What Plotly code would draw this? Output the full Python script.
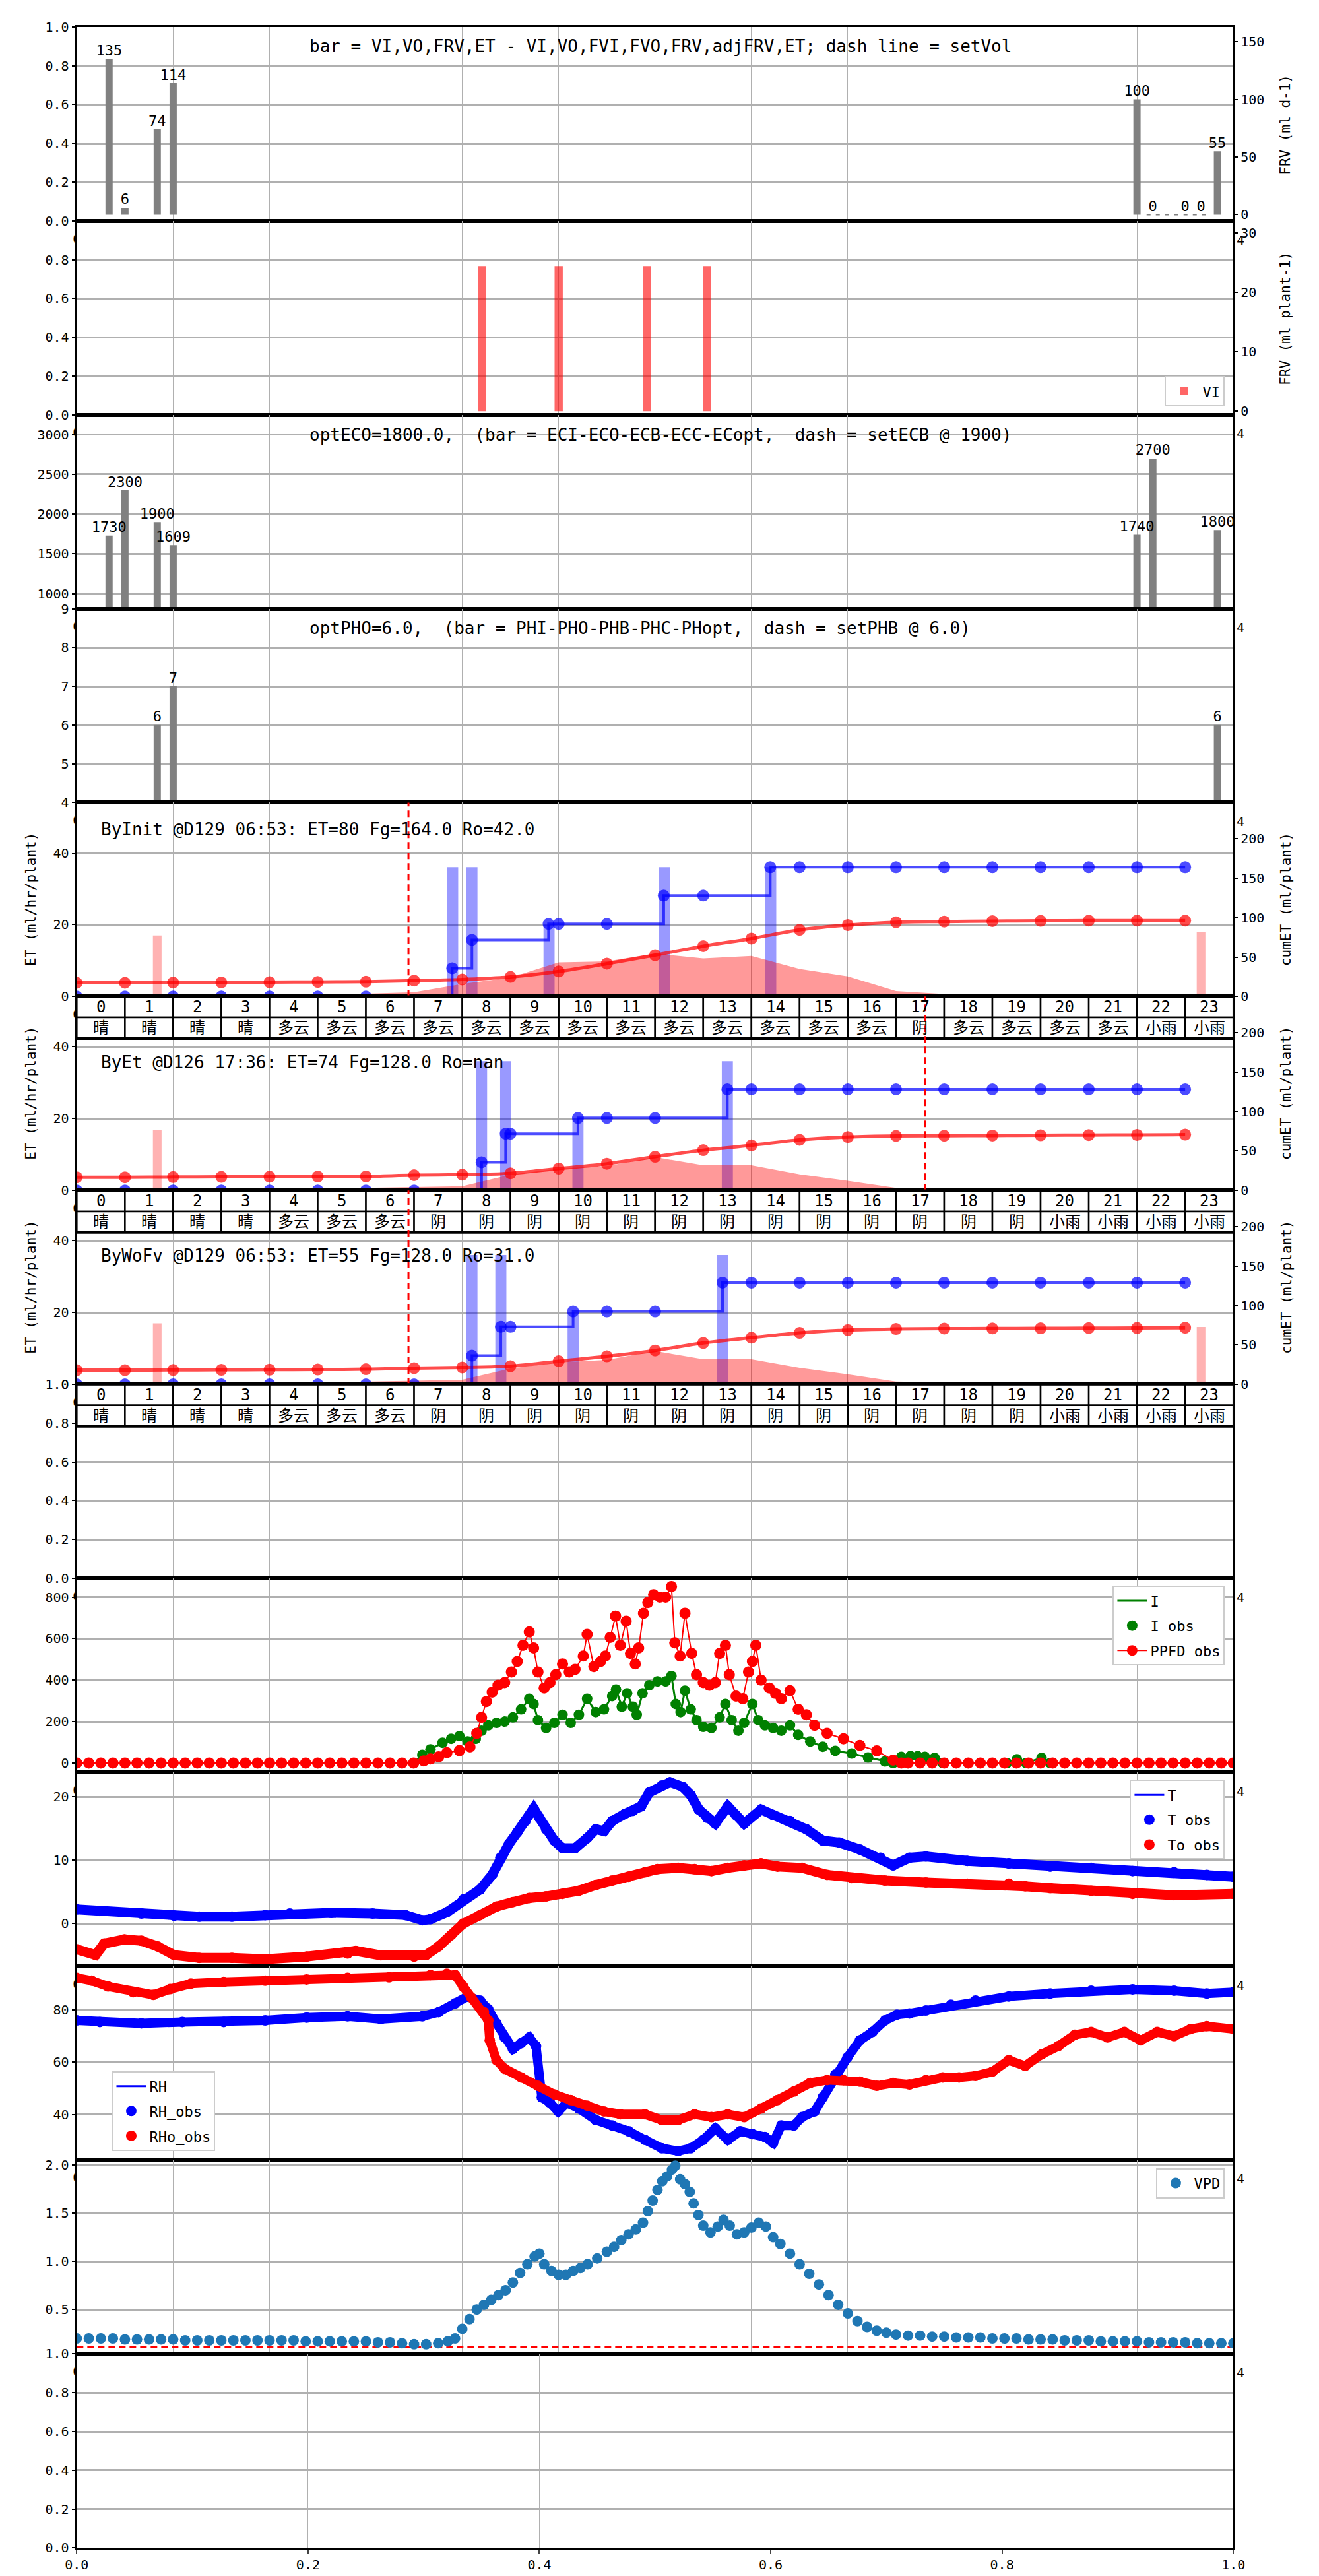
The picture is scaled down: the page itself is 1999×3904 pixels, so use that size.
import plotly.graph_objects as go

# ---------------- data ----------------
hours = list(range(24))

frv_t = [0.67, 1.0, 1.67, 2.0, 22.0, 22.33, 23.0, 23.33, 23.67]
frv_v = [135, 6, 74, 114, 100, 0, 0, 0, 55]
setvol_t = [22.2, 23.45]
setvol_v = [0, 0]

vi_t = [8.41, 10.0, 11.83, 13.08]
vi_v = [24.4, 24.4, 24.4, 24.4]

ec_t = [0.67, 1.0, 1.67, 2.0, 22.0, 22.33, 23.67]
ec_v = [1730, 2300, 1900, 1609, 1740, 2700, 1800]

ph_t = [1.67, 2.0, 23.67]
ph_v = [6, 7, 6]

weather1 = ['晴', '晴', '晴', '晴', '多云', '多云', '多云', '多云', '多云', '多云', '多云', '多云',
            '多云', '多云', '多云', '多云', '多云', '阴', '多云', '多云', '多云', '多云', '小雨', '小雨']
weather2 = ['晴', '晴', '晴', '晴', '多云', '多云', '多云', '阴', '阴', '阴', '阴', '阴',
            '阴', '阴', '阴', '阴', '阴', '阴', '阴', '阴', '小雨', '小雨', '小雨', '小雨']
weather3 = ['晴', '晴', '晴', '晴', '多云', '多云', '多云', '阴', '阴', '阴', '阴', '阴',
            '阴', '阴', '阴', '阴', '阴', '阴', '阴', '阴', '小雨', '小雨', '小雨', '小雨']

# ET panel 1 (ByInit)
et1_area = [0.5, 0.5, 0.5, 0.5, 0.55, 0.6, 0.8, 1.2, 3.5, 5.3, 9.5, 9.8,
            12.0, 10.6, 11.3, 7.7, 5.6, 1.5, 0.7, 0.55, 0.45, 0.4, 0.35, 0.3]
et1_cum = [17.4, 17.4, 17.7, 17.9, 18.2, 18.5, 18.8, 20.2, 21.6, 24.9, 31.8, 41.7,
           52.5, 63.9, 73.5, 84.6, 90.7, 94.3, 95.1, 95.7, 96.0, 96.3, 96.3, 96.3]
et1_step_t = [0, 1, 2, 3, 4, 5, 6, 7.79, 8.2, 9.79, 10, 11, 12.18, 13, 14.39,
              15, 16, 17, 18, 19, 20, 21, 22, 23]
et1_step_v = [0, 0, 0, 0, 0, 0, 0, 35.9, 71.9, 92.1, 92.1, 92.1, 128, 128, 164,
              164, 164, 164, 164, 164, 164, 164, 164, 164]
et1_irr_t = [7.8, 8.2, 9.8, 12.2, 14.4]
et1_irr_v = [36, 36, 20, 36, 36]
et1_drain_t = [1.67, 23.33]
et1_drain_v = [17.0, 17.9]
et1_cut = 6.883

# ET panel 2 (ByEt)
et2_area = [0.3, 0.3, 0.3, 0.3, 0.4, 0.5, 0.7, 1.0, 1.2, 4.4, 6.1, 6.8,
            9.3, 7.0, 7.0, 4.5, 2.7, 0.7, 0.5, 0.4, 0.3, 0.3, 0.25, 0.2]
et2_cum = [16.7, 16.7, 17.0, 17.2, 17.5, 17.7, 17.8, 19.4, 20.0, 21.7, 27.8, 33.9,
           42.8, 51.1, 57.2, 64.2, 67.8, 69.2, 69.4, 69.7, 70.0, 70.3, 70.5, 70.8]
et2_step_t = [0, 1, 2, 3, 4, 5, 6, 7, 8.4, 8.9, 9, 10.4, 11, 12, 13.5,
              14, 15, 16, 17, 18, 19, 20, 21, 22, 23]
et2_step_v = [0, 0, 0, 0, 0, 0, 0, 0, 35.8, 72, 72, 92, 92, 92, 128.3,
              128.3, 128.3, 128.3, 128.3, 128.3, 128.3, 128.3, 128.3, 128.3, 128.3]
et2_irr_t = [8.4, 8.9, 10.4, 13.5]
et2_irr_v = [36, 36, 20, 36]
et2_drain_t = [1.67]
et2_drain_v = [16.9]
et2_cut = 17.6

# ET panel 3 (ByWoFv)
et3_area = [0.3, 0.3, 0.3, 0.3, 0.4, 0.5, 0.7, 1.0, 1.3, 4.4, 6.1, 6.8,
            9.3, 7.0, 7.0, 4.6, 2.8, 0.8, 0.5, 0.4, 0.3, 0.3, 0.25, 0.2]
et3_cum = [18.0, 18.0, 18.2, 18.4, 18.6, 18.8, 19.2, 20.6, 21.4, 23.0, 29.4, 35.6,
           43.0, 52.5, 59.2, 65.3, 68.9, 70.3, 70.8, 70.9, 71.1, 71.4, 71.6, 71.9]
et3_step_t = [0, 1, 2, 3, 4, 5, 6, 7, 8.2, 8.8, 9, 10.3, 11, 12, 13.4,
              14, 15, 16, 17, 18, 19, 20, 21, 22, 23]
et3_step_v = [0, 0, 0, 0, 0, 0, 0, 0, 36.4, 73, 73, 92.5, 92.5, 92.5, 129,
              129, 129, 129, 129, 129, 129, 129, 129, 129, 129]
et3_irr_t = [8.2, 8.8, 10.3, 13.4]
et3_irr_v = [36, 36, 20, 36]
et3_drain_t = [1.67, 23.33]
et3_drain_v = [17.0, 16.0]
et3_cut = 6.883

# light
ppfd_t = [0, 0.25, 0.5, 0.75, 1, 1.25, 1.5, 1.75, 2, 2.25, 2.5, 2.75, 3, 3.25, 3.5, 3.75,
          4, 4.25, 4.5, 4.75, 5, 5.25, 5.5, 5.75, 6, 6.25, 6.5, 6.75,
          6.99, 7.20, 7.34, 7.51, 7.68, 7.94, 8.16, 8.30, 8.40, 8.50, 8.62, 8.74, 8.88,
          9.02, 9.14, 9.26, 9.39, 9.48, 9.57, 9.70, 9.82, 9.94, 10.08, 10.22, 10.34,
          10.51, 10.59, 10.73, 10.87, 10.97, 11.07, 11.18, 11.28, 11.40, 11.49, 11.59,
          11.66, 11.76, 11.85, 11.97, 12.10, 12.22, 12.34, 12.41, 12.52, 12.62, 12.76,
          12.86, 13.00, 13.13, 13.25, 13.34, 13.46, 13.54, 13.68, 13.82, 13.94, 14.02,
          14.09, 14.20, 14.37, 14.50, 14.62, 14.80, 14.97, 15.14, 15.31, 15.57, 15.91,
          16.25, 16.60, 16.94, 17.11,
          17.25, 17.5, 17.75, 18, 18.25, 18.5, 18.75, 19, 19.25, 19.5, 19.75, 20,
          20.25, 20.5, 20.75, 21, 21.25, 21.5, 21.75, 22, 22.25, 22.5, 22.75, 23,
          23.25, 23.5, 23.75, 24]
ppfd_v = [0, 0, 0, 0, 0, 0, 0, 0, 0, 0, 0, 0, 0, 0, 0, 0,
          0, 0, 0, 0, 0, 0, 0, 0, 0, 0, 0, 0,
          0, 10, 20, 30, 50, 60, 78, 143, 220, 297, 342, 375, 388,
          439, 490, 568, 632, 555, 439, 362, 388, 426, 478, 439, 452,
          516, 620, 465, 490, 516, 606, 709, 568, 684, 529, 478,
          555, 722, 774, 812, 800, 800, 851, 580, 516, 722, 529,
          426, 388, 375, 388, 529, 568, 426, 323, 310, 439, 490,
          568, 400, 362, 336, 310, 349, 259, 233, 182, 143, 117,
          85, 59, 14, 0,
          0, 0, 0, 0, 0, 0, 0, 0, 0, 0, 0, 0,
          0, 0, 0, 0, 0, 0, 0, 0, 0, 0, 0, 0,
          0, 0, 0, 0]
iobs_t = [0, 6.99, 7.17, 7.34, 7.59, 7.77, 7.94, 8.11, 8.28, 8.40, 8.54, 8.71, 8.88,
          9.05, 9.22, 9.39, 9.48, 9.57, 9.74, 9.91, 10.08, 10.25, 10.42, 10.59, 10.77,
          10.94, 11.11, 11.19, 11.31, 11.42, 11.54, 11.62, 11.74, 11.88, 12.05, 12.22,
          12.34, 12.43, 12.53, 12.62, 12.74, 12.86, 13.0, 13.17, 13.34, 13.46, 13.59,
          13.73, 13.85, 14.02, 14.14, 14.28, 14.45, 14.62, 14.80, 14.97, 15.22, 15.48,
          15.74, 16.08, 16.42, 16.77, 16.94, 17.11, 17.3, 17.45, 17.6, 17.80, 17.97,
          19.3, 19.51, 19.7, 20.02, 20.2, 24]
iobs_v = [0, 0, 40, 66, 98, 117, 130, 104, 117, 156, 182, 194, 200,
          220, 259, 310, 285, 207, 169, 194, 233, 194, 233, 310, 246,
          259, 323, 355, 272, 336, 272, 233, 336, 375, 394, 394,
          420, 285, 246, 349, 259, 207, 175, 169, 220, 285, 207,
          156, 194, 285, 207, 182, 169, 156, 182, 136, 104, 79,
          59, 46, 27, 8, 0, 30, 34, 33, 30, 25, 0,
          0, 18, 0, 25, 0, 0]

# temperature
t_t = [0.0, 0.48, 1.34, 2.02, 2.54, 3.22, 3.91, 4.42, 5.28, 6.14, 6.82, 7.17, 7.34, 7.68,
       8.02, 8.37, 8.62, 8.79, 8.97, 9.14, 9.31, 9.48, 9.60, 9.74, 9.91, 10.08, 10.34,
       10.59, 10.77, 10.94, 11.11, 11.37, 11.54, 11.71, 11.88, 12.14, 12.31, 12.57,
       12.74, 12.91, 13.08, 13.25, 13.51, 13.68, 13.85, 14.20, 14.45, 14.80, 15.14,
       15.48, 15.82, 16.25, 16.68, 16.94, 17.28, 17.62, 18.48, 19.34, 20.20, 21.05,
       21.91, 22.77, 23.45, 24.0]
t_v = [2.25, 2.0, 1.6, 1.26, 1.1, 1.1, 1.35, 1.6, 1.7, 1.6, 1.35, 0.54, 0.7, 1.8,
       3.8, 5.4, 7.7, 10.4, 12.6, 14.4, 16.2, 18.2, 16.7, 14.9, 13.1, 11.9, 11.9,
       13.5, 14.9, 14.6, 16.2, 17.3, 17.8, 18.5, 20.7, 21.8, 22.3, 21.6,
       20.3, 18.0, 16.7, 15.8, 18.5, 17.1, 15.8, 18.0, 17.1, 16.2, 14.9,
       13.1, 12.8, 11.7, 10.4, 9.2, 10.4, 10.6, 9.9, 9.5, 9.0, 8.8,
       8.3, 8.1, 7.7, 7.4]
to_t = [0, 0.39, 0.57, 0.99, 1.34, 1.68, 2.02, 2.54, 3.22, 3.91, 4.77, 5.62, 5.79, 6.31,
        7.0, 7.25, 7.51, 7.77, 8.02, 8.37, 8.71, 9.05, 9.39, 9.74, 10.08, 10.42, 10.77,
        11.11, 11.45, 11.79, 12.05, 12.48, 12.82, 13.17, 13.51, 13.85, 14.20, 14.54,
        15.05, 15.57, 16.08, 16.77, 17.62, 18.48, 19.34, 19.68, 20.20, 21.05, 21.91,
        22.77, 24.0]
to_v = [-4.05, -4.95, -3.15, -2.5, -2.7, -3.6, -4.95, -5.4, -5.4, -5.6, -5.2, -4.7, -4.3, -5.0,
        -5.2, -4.95, -3.6, -1.8, 0.0, 1.35, 2.7, 3.4, 4.05, 4.3, 4.7, 5.2, 6.1,
        6.8, 7.4, 8.1, 8.6, 8.8, 8.6, 8.3, 8.8, 9.2, 9.5, 9.0,
        8.8, 7.7, 7.2, 6.8, 6.5, 6.3, 6.3, 5.9, 5.6, 5.2, 4.7,
        4.5, 4.7]

# humidity
rh_t = [0, 0.48, 1.34, 2.19, 3.05, 3.91, 4.77, 5.62, 6.31, 7.17, 7.51, 7.85, 8.11, 8.37,
        8.54, 8.71, 8.88, 9.05, 9.22, 9.39, 9.53, 9.65, 9.82, 9.99, 10.17, 10.42, 10.77,
        11.11, 11.45, 11.79, 12.14, 12.48, 12.74, 13.0, 13.25, 13.51, 13.77, 14.02,
        14.28, 14.45, 14.62, 14.88, 15.05, 15.31, 15.48, 15.74, 15.99, 16.25, 16.51,
        16.77, 17.02, 17.28, 17.62, 18.14, 18.65, 19.34, 20.20, 21.05, 21.91, 22.77,
        23.45, 24.0]
rh_v = [76, 75.4, 74.9, 75.4, 75.4, 76, 77.1, 77.6, 76.5, 77.6, 79.2, 82.5, 85.2, 83.6,
        80.3, 74.9, 69.5, 65.1, 67.3, 69.5, 66.2, 46.6, 44.5, 41.2, 44.5, 42.3, 37.9,
        35.8, 33.6, 30.3, 27.1, 26, 27.1, 30.3, 34.7, 30.3, 33.6, 32.5,
        31.4, 29.2, 35.8, 35.8, 39.0, 41.2, 46.6, 55.3, 61.8, 68.4, 71.6,
        76, 78.2, 78.7, 79.8, 82, 83.6, 85.2, 86.3, 87.4, 87.9, 87.4,
        86.3, 86.8]
rho_t = [0, 0.31, 0.65, 1.17, 1.59, 1.94, 2.37, 3.05, 3.91, 4.77, 5.62, 6.48, 7.34, 7.68,
         7.85, 8.02, 8.19, 8.45, 8.54, 8.57, 8.71, 8.88, 9.22, 9.57, 9.91, 10.25, 10.59,
         10.94, 11.28, 11.79, 12.14, 12.48, 12.82, 13.17, 13.51, 13.85, 14.20, 14.54,
         14.88, 15.22, 15.57, 15.91, 16.25, 16.60, 16.94, 17.28, 17.62, 17.97, 18.31,
         18.65, 19.0, 19.34, 19.68, 20.02, 20.37, 20.71, 21.05, 21.39, 21.74, 22.08,
         22.42, 22.77, 23.11, 23.45, 24.0]
rho_v = [92.3, 91.2, 89, 86.8, 85.8, 88, 90.1, 90.7, 91.2, 91.7, 92.3, 92.5, 93.4, 93.9,
         93.4, 89, 84.7, 79.2, 76, 68.4, 60.8, 57.5, 54.2, 51, 47.7, 45.5, 43.4,
         41.2, 40.1, 40.1, 37.9, 37.9, 40.1, 39.0, 40.1, 39.0, 42.3, 45.5,
         48.8, 52.1, 53.2, 53.2, 52.6, 51, 52.1, 51.5, 53.2, 54.2, 54.2,
         54.8, 56.4, 60.8, 58.6, 63, 66.2, 70.5, 71.6, 69.5, 71.6, 68.4,
         71.6, 70, 72.7, 73.8, 72.7]

# vapour pressure deficit
vpd_t = [0, 0.25, 0.5, 0.75, 1, 1.25, 1.5, 1.75, 2, 2.25, 2.5, 2.75, 3, 3.25, 3.5, 3.75,
         4, 4.25, 4.5, 4.75, 5, 5.25, 5.5, 5.75, 6, 6.25, 6.5, 6.75, 7.0,
         7.25, 7.5, 7.7, 7.85, 8.0, 8.15, 8.3, 8.45, 8.6, 8.75, 8.9, 9.05, 9.2, 9.35,
         9.5, 9.6, 9.7, 9.85, 10.0, 10.15, 10.3, 10.45, 10.6, 10.8, 11.0, 11.15, 11.3,
         11.45, 11.6, 11.75, 11.85, 11.95, 12.05, 12.15, 12.25, 12.35, 12.42, 12.52,
         12.62, 12.72, 12.8, 12.9, 13.0, 13.15, 13.3, 13.42, 13.55, 13.7, 13.85, 14.0,
         14.15, 14.3, 14.45, 14.6, 14.8, 15.0, 15.2, 15.4, 15.6, 15.8, 16.0, 16.2, 16.4,
         16.6, 16.8, 17.0,
         17.25, 17.5, 17.75, 18, 18.25, 18.5, 18.75, 19, 19.25, 19.5, 19.75, 20,
         20.25, 20.5, 20.75, 21, 21.25, 21.5, 21.75, 22, 22.25, 22.5, 22.75, 23,
         23.25, 23.5, 23.75, 24]
vpd_v = [0.2, 0.2, 0.2, 0.2, 0.19, 0.19, 0.19, 0.19, 0.19, 0.18, 0.18, 0.18, 0.18, 0.18,
         0.18, 0.18, 0.18, 0.18, 0.18, 0.17, 0.17, 0.17, 0.17, 0.17, 0.17, 0.16, 0.16,
         0.15, 0.14,
         0.14, 0.15, 0.17, 0.2, 0.3, 0.4, 0.5, 0.55, 0.6, 0.65, 0.7, 0.78, 0.88, 0.97,
         1.05, 1.08, 0.97, 0.9, 0.86, 0.86, 0.9, 0.93, 0.97, 1.03, 1.1, 1.15, 1.22,
         1.28, 1.33, 1.4, 1.52, 1.63, 1.74, 1.83, 1.88, 1.95, 1.99, 1.85,
         1.8, 1.72, 1.6, 1.48, 1.37, 1.3, 1.36, 1.43, 1.37, 1.28, 1.3, 1.35,
         1.4, 1.36, 1.25, 1.18, 1.08, 0.97, 0.87, 0.76, 0.65, 0.55, 0.46, 0.38, 0.32,
         0.28, 0.26, 0.24,
         0.23, 0.23, 0.22, 0.22, 0.21, 0.21, 0.21, 0.2, 0.2, 0.2, 0.19, 0.19,
         0.19, 0.18, 0.18, 0.18, 0.17, 0.17, 0.17, 0.17, 0.16, 0.16, 0.16, 0.16,
         0.15, 0.15, 0.15, 0.15]
vpd_ref = 0.11

# ---------------- layout helpers ----------------
FONT = "DejaVu Sans Mono, Noto Sans CJK SC"
GRID = "#b0b0b0"
W, H = 1999, 3904
XL, XR = 92, 1877
TOP, PH = 21, 295.7


def fx(p):
    return p / W


def fy(p):
    return 1 - p / H


def ptop(k):
    return TOP + k * PH


def xr(k):
    return 'x' if k == 0 else f'x{k + 1}'


def yr(k):
    return 'y' if k == 0 else f'y{k + 1}'


def ryr(k):
    return f'y{k + 21}'


def key(ref):
    return ref[0] + 'axis' + ref[1:]


fig = go.Figure()
layout = dict(width=W, height=H, margin=dict(l=0, r=0, t=0, b=0),
              paper_bgcolor='white', plot_bgcolor='rgba(0,0,0,0)', barmode='overlay',
              font=dict(family=FONT, size=20, color='black'), showlegend=True)

left_axes = [
    dict(range=[0, 1], tickvals=[0, 0.2, 0.4, 0.6, 0.8, 1.0], tickformat='.1f'),
    dict(range=[0, 1], tickvals=[0, 0.2, 0.4, 0.6, 0.8], tickformat='.1f'),
    dict(range=[810, 3250], tickvals=[1000, 1500, 2000, 2500, 3000]),
    dict(range=[4, 9], tickvals=[4, 5, 6, 7, 8, 9]),
    dict(range=[0, 54], tickvals=[0, 20, 40]),
    dict(range=[0, 54], tickvals=[0, 20, 40]),
    dict(range=[0, 54], tickvals=[0, 20, 40]),
    dict(range=[0, 1], tickvals=[0, 0.2, 0.4, 0.6, 0.8, 1.0], tickformat='.1f'),
    dict(range=[-44, 891], tickvals=[0, 200, 400, 600, 800]),
    dict(range=[-6.7, 23.9], tickvals=[0, 10, 20]),
    dict(range=[22.6, 96.8], tickvals=[40, 60, 80]),
    dict(range=[0.04, 2.05], tickvals=[0.5, 1.0, 1.5, 2.0], tickformat='.1f'),
    dict(range=[0, 1], tickvals=[0, 0.2, 0.4, 0.6, 0.8, 1.0], tickformat='.1f'),
]
right_axes = {
    0: dict(range=[-5.3, 162.7], tickvals=[0, 50, 100, 150]),
    1: dict(range=[-0.6, 32], tickvals=[0, 10, 20, 30]),
    4: dict(range=[0, 246], tickvals=[0, 50, 100, 150, 200]),
    5: dict(range=[0, 246], tickvals=[0, 50, 100, 150, 200]),
    6: dict(range=[0, 246], tickvals=[0, 50, 100, 150, 200]),
}

for k in range(13):
    dom = [fy(ptop(k) + PH), fy(ptop(k))]
    xa = dict(domain=[fx(XL), fx(XR)], anchor=yr(k), range=[0, 24], showgrid=True,
              gridcolor=GRID, gridwidth=1.2, tickmode='linear', tick0=0, dtick=2,
              showticklabels=False, ticks='', showline=True, linecolor='black',
              linewidth=3, mirror=True, zeroline=False)
    if k == 12:
        xa.update(range=[0, 1], dtick=0.2, showticklabels=True, ticks='outside',
                  ticklen=6, tickwidth=1.5, tickformat='.1f', tickfont=dict(size=20))
    layout[key(xr(k))] = xa
    ya = dict(domain=dom, anchor=xr(k), tickmode='array',
              showgrid=True, gridcolor=GRID, gridwidth=2.5, ticks='outside', ticklen=6,
              tickwidth=1.5, tickcolor='black', showline=True, linecolor='black',
              linewidth=1.5, mirror=True, zeroline=False, tickfont=dict(size=20))
    ya.update(left_axes[k])
    layout[key(yr(k))] = ya
    # an empty trace makes sure every base subplot exists
    fig.add_trace(go.Scatter(x=[], y=[], xaxis=xr(k), yaxis=yr(k), showlegend=False))
    if k in right_axes:
        ra = dict(overlaying=yr(k), side='right', anchor=xr(k), domain=dom,
                  tickmode='array', showgrid=False, ticks='outside', ticklen=6,
                  tickwidth=1.5, tickcolor='black', showline=False, zeroline=False,
                  tickfont=dict(size=20))
        ra.update(right_axes[k])
        layout[key(ryr(k))] = ra

annotations = []
shapes = []


def note(text, x, y, size=26, xanchor='left', angle=0, **kw):
    annotations.append(dict(text=text, x=x, y=y, xref='paper', yref='paper',
                            xanchor=xanchor, yanchor='middle', showarrow=False,
                            textangle=angle, font=dict(size=size, family=FONT), **kw))


GREY = '#808080'

# panel 1: FRV bars
fig.add_trace(go.Bar(x=frv_t, y=frv_v, width=0.15, marker=dict(color=GREY, line_width=0),
                     xaxis=xr(0), yaxis=ryr(0), showlegend=False))
fig.add_trace(go.Scatter(x=frv_t, y=frv_v, mode='text', text=[str(v) for v in frv_v],
                         textposition='top center', textfont=dict(size=22),
                         cliponaxis=False, xaxis=xr(0), yaxis=ryr(0), showlegend=False))
fig.add_trace(go.Scatter(x=setvol_t, y=setvol_v, mode='lines',
                         line=dict(color=GREY, width=2, dash='6px,8px'),
                         xaxis=xr(0), yaxis=ryr(0), showlegend=False))
note('bar = VI,VO,FRV,ET - VI,VO,FVI,FVO,FRV,adjFRV,ET; dash line = setVol',
     fx(449), fy(50))
note('FRV (ml d-1)', fx(1957), fy(170), size=21, xanchor='center', angle=-90)

# panel 2: VI bars
fig.add_trace(go.Bar(x=vi_t, y=vi_v, width=0.17, name='VI',
                     marker=dict(color='rgba(255,0,0,0.6)', line_width=0),
                     xaxis=xr(1), yaxis=ryr(1), legend='legend'))
note('FRV (ml plant-1)', fx(1957), fy(466), size=21, xanchor='center', angle=-90)

# panel 3: EC bars
fig.add_trace(go.Bar(x=ec_t, y=ec_v, width=0.15, marker=dict(color=GREY, line_width=0),
                     xaxis=xr(2), yaxis=yr(2), showlegend=False))
fig.add_trace(go.Scatter(x=ec_t, y=ec_v, mode='text', text=[str(v) for v in ec_v],
                         textposition='top center', textfont=dict(size=22),
                         cliponaxis=False, xaxis=xr(2), yaxis=yr(2), showlegend=False))
note('optECO=1800.0,  (bar = ECI-ECO-ECB-ECC-ECopt,  dash = setECB @ 1900)',
     fx(449), fy(643))

# panel 4: pH bars
fig.add_trace(go.Bar(x=ph_t, y=ph_v, width=0.15, marker=dict(color=GREY, line_width=0),
                     xaxis=xr(3), yaxis=yr(3), showlegend=False))
fig.add_trace(go.Scatter(x=ph_t, y=ph_v, mode='text', text=[str(v) for v in ph_v],
                         textposition='top center', textfont=dict(size=22),
                         cliponaxis=False, xaxis=xr(3), yaxis=yr(3), showlegend=False))
note('optPHO=6.0,  (bar = PHI-PHO-PHB-PHC-PHopt,  dash = setPHB @ 6.0)',
     fx(449), fy(938))

# ET panels
et_panels = [
    dict(k=4, area=et1_area, cum=et1_cum, st=et1_step_t, sv=et1_step_v, it=et1_irr_t,
         iv=et1_irr_v, dt=et1_drain_t, dv=et1_drain_v, cut=et1_cut, weather=weather1,
         title='ByInit @D129 06:53: ET=80 Fg=164.0 Ro=42.0', ty=1245),
    dict(k=5, area=et2_area, cum=et2_cum, st=et2_step_t, sv=et2_step_v, it=et2_irr_t,
         iv=et2_irr_v, dt=et2_drain_t, dv=et2_drain_v, cut=et2_cut, weather=weather2,
         title='ByEt @D126 17:36: ET=74 Fg=128.0 Ro=nan', ty=1600),
    dict(k=6, area=et3_area, cum=et3_cum, st=et3_step_t, sv=et3_step_v, it=et3_irr_t,
         iv=et3_irr_v, dt=et3_drain_t, dv=et3_drain_v, cut=et3_cut, weather=weather3,
         title='ByWoFv @D129 06:53: ET=55 Fg=128.0 Ro=31.0', ty=1895),
]
for p in et_panels:
    k = p['k']
    fig.add_trace(go.Scatter(x=hours, y=p['area'], mode='lines', fill='tozeroy',
                             line=dict(width=0, color='rgba(255,0,0,0)'),
                             fillcolor='rgba(255,0,0,0.4)', xaxis=xr(k), yaxis=yr(k),
                             showlegend=False))
    fig.add_trace(go.Bar(x=p['it'], y=p['iv'], width=0.23,
                         marker=dict(color='rgba(0,0,255,0.4)', line_width=0),
                         xaxis=xr(k), yaxis=yr(k), showlegend=False))
    fig.add_trace(go.Bar(x=p['dt'], y=p['dv'], width=0.18,
                         marker=dict(color='rgba(255,0,0,0.3)', line_width=0),
                         xaxis=xr(k), yaxis=yr(k), showlegend=False))
    fig.add_trace(go.Scatter(x=hours, y=p['cum'], mode='lines+markers',
                             line=dict(color='rgba(255,0,0,0.7)', width=5, shape='spline'),
                             marker=dict(size=18, color='rgba(255,0,0,0.7)'),
                             xaxis=xr(k), yaxis=ryr(k), showlegend=False))
    fig.add_trace(go.Scatter(x=p['st'], y=p['sv'], mode='lines+markers',
                             line=dict(color='rgba(0,0,255,0.7)', width=4, shape='hv'),
                             marker=dict(size=18, color='rgba(0,0,255,0.7)'),
                             xaxis=xr(k), yaxis=ryr(k), showlegend=False))
    shapes.append(dict(type='line', xref=xr(k), yref=yr(k) + ' domain', x0=p['cut'],
                       x1=p['cut'], y0=0, y1=1,
                       line=dict(color='red', width=3, dash='10px,6px')))
    note(p['title'], fx(127), fy(p['ty']))
    mid = ptop(k) + PH / 2
    note('ET (ml/hr/plant)', fx(22), fy(mid), size=21, xanchor='center', angle=-90)
    note('cumET (ml/plant)', fx(1959), fy(mid), size=21, xanchor='center', angle=-90)
    # table under the axes: hour row and weather row
    b = ptop(k) + PH
    for h in hours:
        for row, label in ((0, str(h)), (1, p['weather'][h])):
            shapes.append(dict(type='rect', xref=xr(k), yref='paper', x0=h, x1=h + 1,
                               y0=fy(b + 32 * (row + 1)), y1=fy(b + 32 * row),
                               fillcolor='white', line=dict(color='black', width=2.5),
                               layer='above'))
            annotations.append(dict(text=label, x=h + 0.5, y=fy(b + 32 * row + 16),
                                    xref=xr(k), yref='paper', showarrow=False,
                                    xanchor='center', yanchor='middle',
                                    font=dict(size=24, family=FONT)))
    for yy, wd in ((b, 3.5), (b + 64, 4)):
        shapes.append(dict(type='line', xref=xr(k), yref='paper', x0=0, x1=24,
                           y0=fy(yy), y1=fy(yy), line=dict(color='black', width=wd),
                           layer='above'))

# light panel
k = 8
fig.add_trace(go.Scatter(x=iobs_t, y=iobs_v, mode='lines', name='I', legendgroup='I',
                         line=dict(color='green', width=3), xaxis=xr(k), yaxis=yr(k),
                         legend='legend2'))
fig.add_trace(go.Scatter(x=iobs_t, y=iobs_v, mode='markers', name='I_obs',
                         legendgroup='I_obs', marker=dict(color='green', size=16),
                         xaxis=xr(k), yaxis=yr(k), legend='legend2'))
fig.add_trace(go.Scatter(x=ppfd_t, y=ppfd_v, mode='lines+markers', name='PPFD_obs',
                         legendgroup='PPFD_obs', line=dict(color='red', width=2),
                         marker=dict(color='red', size=17), xaxis=xr(k), yaxis=yr(k),
                         legend='legend2'))

# temperature panel
k = 9
fig.add_trace(go.Scatter(x=t_t, y=t_v, mode='lines', name='T', legendgroup='T',
                         line=dict(color='blue', width=3), xaxis=xr(k), yaxis=yr(k),
                         legend='legend3'))
fig.add_trace(go.Scatter(x=t_t, y=t_v, mode='lines', line=dict(color='blue', width=15),
                         xaxis=xr(k), yaxis=yr(k), showlegend=False))
fig.add_trace(go.Scatter(x=t_t, y=t_v, mode='markers', name='T_obs', legendgroup='T_obs',
                         marker=dict(color='blue', size=16), xaxis=xr(k), yaxis=yr(k),
                         legend='legend3'))
fig.add_trace(go.Scatter(x=to_t, y=to_v, mode='lines', line=dict(color='red', width=15),
                         xaxis=xr(k), yaxis=yr(k), showlegend=False))
fig.add_trace(go.Scatter(x=to_t, y=to_v, mode='markers', name='To_obs',
                         legendgroup='To_obs', marker=dict(color='red', size=16),
                         xaxis=xr(k), yaxis=yr(k), legend='legend3'))

# humidity panel
k = 10
fig.add_trace(go.Scatter(x=rh_t, y=rh_v, mode='lines', name='RH', legendgroup='RH',
                         line=dict(color='blue', width=3), xaxis=xr(k), yaxis=yr(k),
                         legend='legend4'))
fig.add_trace(go.Scatter(x=rh_t, y=rh_v, mode='lines', line=dict(color='blue', width=14),
                         xaxis=xr(k), yaxis=yr(k), showlegend=False))
fig.add_trace(go.Scatter(x=rh_t, y=rh_v, mode='markers', name='RH_obs',
                         legendgroup='RH_obs', marker=dict(color='blue', size=16),
                         xaxis=xr(k), yaxis=yr(k), legend='legend4'))
fig.add_trace(go.Scatter(x=rho_t, y=rho_v, mode='lines', line=dict(color='red', width=14),
                         xaxis=xr(k), yaxis=yr(k), showlegend=False))
fig.add_trace(go.Scatter(x=rho_t, y=rho_v, mode='markers', name='RHo_obs',
                         legendgroup='RHo_obs', marker=dict(color='red', size=16),
                         xaxis=xr(k), yaxis=yr(k), legend='legend4'))

# VPD panel
k = 11
fig.add_trace(go.Scatter(x=[0, 24], y=[vpd_ref, vpd_ref], mode='lines',
                         line=dict(color='red', width=3, dash='10px,6px'),
                         xaxis=xr(k), yaxis=yr(k), showlegend=False))
fig.add_trace(go.Scatter(x=vpd_t, y=vpd_v, mode='markers', name='VPD',
                         marker=dict(color='#1f77b4', size=16), xaxis=xr(k), yaxis=yr(k),
                         legend='legend5'))

# stray end tick labels of the hidden x axes ("0" cut by the frame, "4" on the right)
stub_y = [ptop(k) + 29 for k in range(1, 13)]
layout['xaxis40'] = dict(domain=[fx(40), fx(XL)], range=[40, XL], visible=False)
layout['yaxis40'] = dict(domain=[0, 1], range=[H, 0], anchor='x40', visible=False)
fig.add_trace(go.Scatter(x=[XL] * len(stub_y), y=stub_y, mode='text',
                         text=['0'] * len(stub_y), textfont=dict(size=20),
                         cliponaxis=True, xaxis='x40', yaxis='y40', showlegend=False))
for k in (1, 2, 3, 4, 8, 9, 10, 11, 12):
    note('4', fx(1880), fy(ptop(k) + 29), size=20)

legend_style = dict(bgcolor='white', bordercolor='#cccccc', borderwidth=2,
                    font=dict(size=22, family=FONT), xanchor='right',
                    tracegroupgap=6, itemwidth=45)
layout['legend'] = dict(legend_style, x=fx(1864), y=fy(600), yanchor='bottom')
layout['legend2'] = dict(legend_style, x=fx(1864), y=fy(2398), yanchor='top')
layout['legend3'] = dict(legend_style, x=fx(1864), y=fy(2694), yanchor='top')
layout['legend4'] = dict(legend_style, x=fx(306), y=fy(3260), yanchor='bottom')
layout['legend5'] = dict(legend_style, x=fx(1864), y=fy(3286), yanchor='top')

layout['annotations'] = annotations
layout['shapes'] = shapes
fig.update_layout(layout)
fig.write_html("out.html")
